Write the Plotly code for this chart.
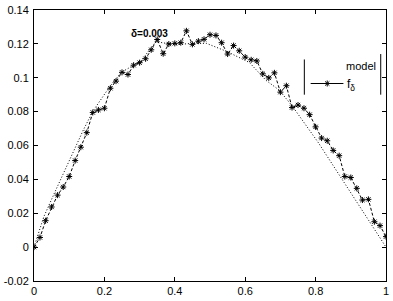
import plotly.graph_objects as go

# f_delta samples (x uniform grid, 61 points)
x_f = [0.000, 0.017, 0.033, 0.050, 0.067, 0.083, 0.100, 0.117, 0.133, 0.150,
       0.167, 0.183, 0.200, 0.217, 0.233, 0.250, 0.267, 0.283, 0.300, 0.317,
       0.333, 0.350, 0.367, 0.383, 0.400, 0.417, 0.433, 0.450, 0.467, 0.483,
       0.500, 0.517, 0.533, 0.550, 0.567, 0.583, 0.600, 0.617, 0.633, 0.650,
       0.667, 0.683, 0.700, 0.717, 0.733, 0.750, 0.767, 0.783, 0.800, 0.817,
       0.833, 0.850, 0.867, 0.883, 0.900, 0.917, 0.933, 0.950, 0.967, 0.983,
       1.000]
y_f = [0.0000, 0.0057, 0.0156, 0.0237, 0.0307, 0.0355, 0.0417, 0.0511, 0.0590, 0.0676,
       0.0795, 0.0810, 0.0820, 0.0938, 0.0980, 0.1032, 0.1019, 0.1074, 0.1089, 0.1112,
       0.1165, 0.1226, 0.1142, 0.1199, 0.1203, 0.1207, 0.1277, 0.1197, 0.1216, 0.1227,
       0.1254, 0.1250, 0.1207, 0.1140, 0.1190, 0.1159, 0.1122, 0.1106, 0.1099, 0.1023,
       0.0999, 0.1029, 0.0915, 0.0953, 0.0824, 0.0839, 0.0820, 0.0782, 0.0710, 0.0644,
       0.0628, 0.0571, 0.0540, 0.0417, 0.0411, 0.0347, 0.0278, 0.0282, 0.0150, 0.0127,
       0.0062]

# model curve
x_m = [0.0, 0.028, 0.056, 0.084, 0.112, 0.140, 0.168, 0.215, 0.248, 0.304, 0.346,
       0.400, 0.450, 0.490, 0.547, 0.584, 0.612, 0.659, 0.696, 0.733, 0.808, 1.0]
y_m = [0.0, 0.0180, 0.0310, 0.0436, 0.0568, 0.0691, 0.0805, 0.0947, 0.1032, 0.1099, 0.1213,
       0.1195, 0.1203, 0.1203, 0.1156, 0.1118, 0.1090, 0.0985, 0.0928, 0.0835, 0.0616, 0.0]

x_ticks = [0, 0.2, 0.4, 0.6, 0.8, 1]
x_tick_labels = ["0", "0.2", "0.4", "0.6", "0.8", "1"]
y_ticks = [-0.02, 0, 0.02, 0.04, 0.06, 0.08, 0.1, 0.12, 0.14]
y_tick_labels = ["-0.02", "0", "0.02", "0.04", "0.06", "0.08", "0.1", "0.12", "0.14"]

MARK = dict(symbol="asterisk-open", size=5, color="black",
            line=dict(color="black", width=1))

fig = go.Figure()
fig.add_trace(go.Scatter(x=x_m, y=y_m, mode="lines",
                         line=dict(color="black", width=1, dash="1px,2px"),
                         showlegend=False, hoverinfo="skip"))
fig.add_trace(go.Scatter(x=x_f, y=y_f, mode="lines+markers",
                         line=dict(color="black", width=1, dash="3px,2px"),
                         marker=MARK, showlegend=False, hoverinfo="skip"))

FONT = "Liberation Sans, Arial, sans-serif"
axis_common = dict(showgrid=False, zeroline=False, showline=True, mirror="ticks",
                   linecolor="black", linewidth=1, ticks="inside", ticklen=4,
                   tickcolor="black", ticklabeloverflow="allow",
                   tickfont=dict(family=FONT, size=11, color="black"))
fig.update_xaxes(range=[0, 1.0000001], tickvals=x_ticks, ticktext=x_tick_labels,
                 ticklabelstandoff=0, **axis_common)
fig.update_yaxes(range=[-0.0200001, 0.1400001], tickvals=y_ticks, ticktext=y_tick_labels,
                 ticklabelstandoff=2, **axis_common)

fig.update_layout(
    width=393, height=301,
    margin=dict(l=31, r=4, t=5, b=14),
    plot_bgcolor="white", paper_bgcolor="white",
    font=dict(family=FONT, size=11, color="black"),
    annotations=[
        dict(x=0.270, y=0.126, xref="x", yref="y", text="<b>δ=0.003</b>",
             showarrow=False, xanchor="left", yanchor="middle",
             font=dict(family=FONT, size=10, color="black")),
        dict(x=0.978, y=0.1072, xref="x", yref="y", text="model",
             showarrow=False, xanchor="right", yanchor="middle",
             font=dict(family=FONT, size=11, color="black")),
        dict(x=0.883, y=0.0960, xref="x", yref="y", text="f<sub>δ</sub>",
             showarrow=False, xanchor="left", yanchor="middle",
             font=dict(family=FONT, size=12, color="black")),
    ],
    shapes=[
        dict(type="line", xref="x", yref="y", x0=0.768, x1=0.768, y0=0.0900, y1=0.1108,
             line=dict(color="black", width=1)),
        dict(type="line", xref="x", yref="y", x0=0.985, x1=0.985, y0=0.0900, y1=0.1140,
             line=dict(color="black", width=1)),
        dict(type="line", xref="x", yref="y", x0=0.786, x1=0.879, y0=0.0966, y1=0.0966,
             line=dict(color="black", width=1)),
    ],
)
# legend sample marker
fig.add_trace(go.Scatter(x=[0.833], y=[0.0966], mode="markers", marker=MARK,
                         showlegend=False, hoverinfo="skip"))

fig.write_html("out.html", config={"displayModeBar": False},
               post_script="document.body.style.margin='0';")
